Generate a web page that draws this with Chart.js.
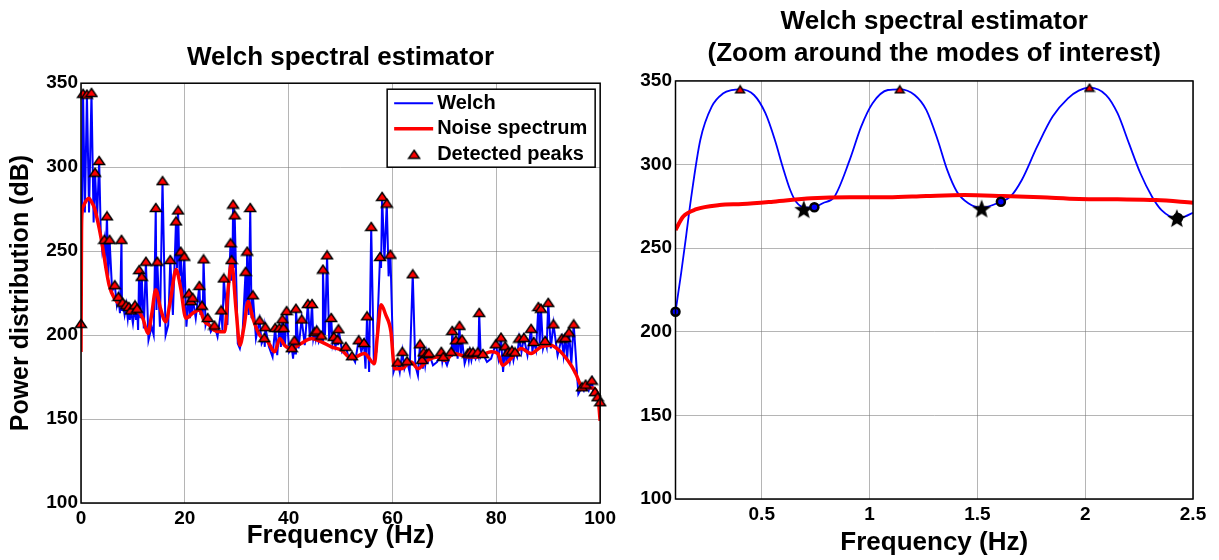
<!DOCTYPE html>
<html>
<head>
<meta charset="utf-8">
<title>Welch spectral estimator</title>
<script src="https://cdn.jsdelivr.net/npm/chart.js@4.4.1/dist/chart.umd.min.js"></script>
<style>
  html, body { margin: 0; padding: 0; background: #fff; }
  #wrap { position: relative; width: 1219px; height: 560px; overflow: hidden; }
  .panel { position: absolute; top: 0; height: 560px; }
  #left { left: 0; width: 620px; }
  #right { left: 615px; width: 604px; }
</style>
</head>
<body>
<div id="wrap">
  <div class="panel" id="left"><canvas id="welch"></canvas></div>
  <div class="panel" id="right"><canvas id="zoom"></canvas></div>
</div>
<script>
// full band, 0-100 Hz
const freqTicks = [0, 20, 40, 60, 80, 100];
const powTicks = [100, 150, 200, 250, 300, 350];

// detected peaks (also the tips of the Welch spikes)
const peakFreq = [0, 0.4, 1.14, 2.02, 2.7, 3.5, 4.5, 5.0, 5.5, 6.5,
  7.2, 7.8, 8.0, 8.7, 9.2, 9.6, 10.4, 10.8, 11.2, 11.7,
  12.5, 14.4, 14.7, 15.7, 17.2, 18.3, 18.7, 19.2, 19.9, 20.8,
  21.2, 21.5, 22.8, 23.3, 23.6, 24.4, 25.7, 27.0, 27.5, 28.8,
  29.0, 29.3, 29.6, 31.7, 32.0, 32.6, 33.1, 34.4, 35.3, 35.5,
  37.4, 38.2, 38.8, 39.0, 39.6, 40.6, 41.1, 41.4, 42.5, 43.7,
  44.5, 45.0, 45.4, 46.3, 46.6, 47.4, 48.2, 48.7, 49.4, 49.6,
  51.0, 52.2, 53.5, 54.5, 55.1, 55.9, 57.6, 58.0, 58.9, 59.6,
  61.0, 61.9, 62.8, 63.9, 65.3, 65.7, 66.0, 66.6, 67.0, 69.4,
  69.8, 71.3, 71.5, 72.2, 72.9, 73.4, 74.5, 74.9, 75.5, 76.4,
  76.7, 77.4, 79.9, 80.9, 81.7, 82.2, 83.0, 83.6, 84.4, 85.3,
  86.7, 87.2, 88.1, 88.6, 89.4, 90.0, 91.0, 92.6, 93.3, 94.0,
  94.9, 96.5, 97.2, 98.4, 99.0, 99.5, 100];
const peakPow = [207, 344, 343.5, 344.5, 297, 304, 257, 271, 257, 230,
  223, 257, 219.6, 218, 217, 215, 218, 216, 239, 235,
  244, 276, 244, 292, 245, 268, 274.5, 250, 247, 225,
  220.5, 222.5, 229.6, 217.8, 245.4, 210.5, 206, 215, 234, 255,
  245, 278, 271.6, 238, 250, 276, 224, 209, 198.5, 205,
  204.5, 204.5, 209.7, 204.5, 214.6, 192.5, 197, 216, 209.6, 218.8,
  218.8, 202, 203, 200, 239.3, 247.8, 210.5, 199.2, 197.5, 203.8,
  193.3, 187.7, 197.2, 195.6, 211.5, 264.7, 246.8, 282.6, 278.6, 248.2,
  184, 190.3, 184.7, 236.5, 194.8, 185.5, 190, 189, 189.5, 190.3,
  187.3, 190.3, 202.8, 197.2, 205.8, 197.6, 189.3, 190, 190, 190,
  213.5, 189, 194.8, 198.8, 193.6, 190, 191, 190, 198.2, 198.6,
  204, 196.2, 217, 216, 196.8, 219.5, 206.7, 198.2, 198.6, 201.8,
  206.7, 169.2, 170.8, 173.2, 166.3, 163.3, 160.3];

// Welch spectrum between the peaks (troughs)
const welchFreq = [0.75, 1.55, 2.43, 3.1, 3.8, 4.1, 4.7, 5.25, 6.0, 6.9,
  7.5, 7.9, 8.4, 9.0, 9.4, 10.0, 10.6, 11.0, 11.45, 12.1,
  13.0, 13.6, 14.0, 14.55, 15.2, 16.3, 16.8, 17.7, 18.5, 19.0,
  19.6, 20.3, 21.0, 21.35, 22.1, 23.0, 23.45, 24.0, 25.0, 26.3,
  27.25, 28.2, 28.9, 29.15, 29.45, 30.2, 30.6, 31.1, 31.85, 32.3,
  32.85, 33.7, 34.8, 35.4, 36.2, 36.9, 37.8, 38.5, 38.9, 39.3,
  40.1, 40.85, 41.25, 41.9, 43.1, 44.1, 44.75, 45.2, 45.8, 46.45,
  47.0, 47.8, 48.45, 49.0, 49.5, 50.3, 51.6, 52.8, 54.0, 54.8,
  55.5, 56.4, 56.9, 57.8, 58.45, 59.25, 60.2, 60.6, 61.4, 62.3,
  63.3, 64.4, 64.9, 65.5, 65.85, 66.3, 66.8, 67.8, 68.6, 69.6,
  70.5, 71.4, 71.9, 72.55, 73.15, 73.9, 74.7, 75.2, 76.0, 76.55,
  77.0, 78.2, 79.0, 80.4, 81.3, 81.95, 82.6, 83.3, 84.0, 84.85,
  86.0, 86.95, 87.65, 88.35, 89.0, 89.7, 90.5, 91.8, 92.95, 93.65,
  94.45, 95.8, 96.85, 97.8, 98.7, 99.25, 99.75];
const welchPow = [273, 273, 267, 270, 262, 250, 240, 235, 226, 218,
  213, 215, 212, 210, 209, 207, 209, 203, 210, 204,
  197, 205, 200, 215, 205, 200, 206, 212, 240, 235,
  222, 205, 210, 212, 210, 212, 210, 206, 202, 199,
  203, 206, 233, 236, 240, 195, 192, 200, 215, 212,
  210, 198, 195, 193, 193, 187, 188, 193, 196, 194,
  190, 186, 189, 192, 194, 197, 198, 198, 196, 196,
  200, 197, 195, 193, 194, 190, 186, 184, 190, 180,
  178, 185, 190, 240, 245, 235, 178, 182, 178, 180,
  178, 182, 176, 183, 180, 182, 183, 182, 184, 184,
  182, 187, 188, 186, 188, 183, 185, 185, 186, 188,
  187, 184, 186, 186, 178, 183, 184, 185, 187, 190,
  188, 190, 191, 195, 192, 193, 192, 188, 188, 186,
  183, 165, 167, 167, 165, 162, 158];

// noise spectrum
const noiseFreq = [0, 0.1, 0.2, 0.5, 1.0, 1.5, 2.0, 2.6, 3.5, 4.2,
  4.8, 5.4, 6.4, 8.0, 9.6, 10.9, 11.9, 12.9, 13.6, 14.4,
  15.3, 16.3, 17.3, 18.3, 19.2, 20.2, 21.5, 22.8, 23.8, 24.7,
  25.6, 26.7, 27.7, 28.3, 29.0, 29.9, 30.6, 31.4, 32.2, 33.1,
  34.4, 36.0, 37.3, 38.3, 39.2, 40.5, 42.4, 44.4, 46.3, 48.2,
  50.2, 52.1, 54.6, 56.5, 57.1, 57.8, 58.7, 59.7, 60.4, 61.7,
  63.6, 64.9, 66.8, 68.7, 70.0, 71.9, 74.5, 76.4, 79.0, 80.3,
  81.2, 82.8, 84.8, 86.7, 88.6, 90.5, 92.4, 94.4, 95.3, 96.6,
  98.5, 99.5, 100];
const noisePow = [190, 262, 273, 277, 280, 281.5, 279.5, 275.6, 263.7, 251.8,
  240, 230, 222, 217, 214, 214, 210, 201, 212, 227,
  216, 208, 222, 239, 228, 210, 213, 215, 208, 206,
  203, 202, 202, 226, 243, 214, 194, 205, 220, 210,
  200, 196, 190, 198, 194, 192, 195, 198, 196, 193,
  191, 186, 189, 183, 200, 218, 212, 202, 180, 180,
  184, 180, 185, 187, 185, 189, 187, 187, 190, 189,
  182, 186, 192, 189, 193, 194, 190, 182, 177, 169,
  168.5, 165, 149];

// zoom around the modes of interest, 0.1-2.5 Hz
const zoomFreqTicks = [0.5, 1, 1.5, 2, 2.5];
const zoomFreq = [0.1, 0.126, 0.15, 0.171, 0.215, 0.268, 0.322, 0.36, 0.4, 0.464,
  0.517, 0.561, 0.597, 0.632, 0.659, 0.703, 0.744, 0.783, 0.837, 0.908,
  0.961, 1.014, 1.085, 1.14, 1.209, 1.263, 1.316, 1.36, 1.405, 1.458,
  1.52, 1.609, 1.653, 1.706, 1.777, 1.849, 1.92, 1.97, 2.02, 2.097,
  2.15, 2.203, 2.256, 2.31, 2.354, 2.425, 2.46, 2.5];
const zoomPow = [212, 235, 258, 278.8, 314.7, 334.6, 342.6, 344.5, 345, 341.6,
  330.7, 314.7, 298.7, 284.8, 277.8, 274.3, 274.5, 276.9, 280.8, 302.8,
  322.7, 336.7, 344.6, 345, 341.6, 332.7, 314.7, 296.8, 283.8, 276.9,
  274.2, 277.8, 280.8, 290.8, 310.7, 328.7, 339.6, 344.2, 346, 341.6,
  330.7, 312.7, 294.8, 280.8, 272.8, 267.9, 268.8, 271.2];
const zoomNoiseFreq = [0.1, 0.135, 0.197, 0.304, 0.41, 0.553, 0.73, 0.908, 1.085, 1.263,
  1.44, 1.618, 1.795, 1.972, 2.15, 2.328, 2.5];
const zoomNoisePow = [260.9, 268.8, 273.3, 275.8, 276.4, 277.8, 279.8, 280.4, 280.4, 281.2,
  281.8, 281.2, 280.4, 279.4, 279.2, 278.8, 277.2];
const zoomPeakFreq = [0.4, 1.14, 2.02];
const zoomPeakPow = [345, 345, 346];
const zoomStarFreq = [0.695, 1.52, 2.425];
const zoomStarPow = [273.3, 273.7, 268];
const zoomDotFreq = [0.1, 0.744, 1.609, 2.43];
const zoomDotPow = [212, 274.5, 277.8, 268];

const FONT = '"Liberation Sans", Arial, Helvetica, sans-serif';
const GRID = 'rgba(120,120,120,0.55)';
Chart.defaults.font.family = FONT;
Chart.defaults.color = '#000';

const pts = (xs, ys) => xs.map((x, i) => ({ x: x, y: ys[i] }));

// marker glyphs
function triangleMarker(w, h) {
  const c = document.createElement('canvas');
  c.width = w + 3; c.height = h + 3;
  const g = c.getContext('2d');
  g.beginPath();
  g.moveTo(c.width / 2, 1.5);
  g.lineTo(w + 1.5, h + 1.5);
  g.lineTo(1.5, h + 1.5);
  g.closePath();
  g.fillStyle = '#ff0000';
  g.fill();
  g.lineWidth = 1.4;
  g.strokeStyle = '#000';
  g.stroke();
  return c;
}
function starMarker(r) {
  const s = Math.ceil(r * 2 + 2);
  const c = document.createElement('canvas');
  c.width = s; c.height = s;
  const g = c.getContext('2d');
  g.translate(s / 2, s / 2 + r * 0.1);
  g.beginPath();
  for (let i = 0; i < 10; i++) {
    const a = -Math.PI / 2 + i * Math.PI / 5;
    const rr = i % 2 ? r * 0.42 : r;
    g.lineTo(rr * Math.cos(a), rr * Math.sin(a));
  }
  g.closePath();
  g.fillStyle = '#000';
  g.fill();
  return c;
}
const bigTriangle = triangleMarker(11, 8);
const smallTriangle = triangleMarker(9, 7);
const star = starMarker(10);

// black box around the plot area
const frame = {
  id: 'frame',
  afterDatasetsDraw(chart) {
    const { ctx, chartArea: a } = chart;
    ctx.save();
    ctx.strokeStyle = '#000';
    ctx.lineWidth = 1.5;
    ctx.strokeRect(a.left, a.top, a.right - a.left, a.bottom - a.top);
    ctx.restore();
  }
};

// matlab-like boxed legend, top right inside the axes
const boxLegend = {
  id: 'boxLegend',
  afterDraw(chart) {
    const { ctx, chartArea } = chart;
    const w = 208, h = 78;
    const left = chartArea.right - 5 - w, top = chartArea.top + 6;
    ctx.save();
    ctx.fillStyle = '#fff';
    ctx.fillRect(left, top, w, h);
    ctx.strokeStyle = '#000';
    ctx.lineWidth = 1.5;
    ctx.strokeRect(left, top, w, h);
    ctx.font = 'bold 20px ' + FONT;
    ctx.textBaseline = 'middle';
    chart.data.datasets.forEach((ds, i) => {
      const y = top + 14 + i * 25.5;
      if (ds.showLine === false) {
        const m = ds.pointStyle;
        ctx.drawImage(m, left + 27 - m.width / 2, y - m.height / 2);
      } else {
        ctx.strokeStyle = ds.borderColor;
        ctx.lineWidth = ds.borderWidth;
        ctx.beginPath();
        ctx.moveTo(left + 7, y);
        ctx.lineTo(left + 46, y);
        ctx.stroke();
      }
      ctx.fillStyle = '#000';
      ctx.fillText(ds.label, left + 50, y);
    });
    ctx.restore();
  }
};

function xAxis(min, max, ticks, height, titlePad) {
  return {
    type: 'linear', min: min, max: max,
    afterBuildTicks: s => { s.ticks = ticks.map(v => ({ value: v })); },
    afterFit: s => { s.height = height; },
    ticks: { color: '#000', padding: 4, maxRotation: 0, autoSkip: false,
      font: { size: 19, weight: 'bold' }, callback: v => String(v) },
    grid: { color: GRID, lineWidth: 1, drawTicks: false },
    border: { display: false },
    title: { display: true, text: 'Frequency (Hz)', color: '#000',
      font: { size: 26, weight: 'bold', lineHeight: 1.2 }, padding: { top: 0, bottom: titlePad } }
  };
}
function yAxis(width, pad, title) {
  return {
    type: 'linear', min: 100, max: 350,
    afterBuildTicks: s => { s.ticks = powTicks.map(v => ({ value: v })); },
    afterFit: s => { s.width = width; },
    ticks: { color: '#000', padding: pad, font: { size: 19, weight: 'bold' } },
    grid: { color: GRID, lineWidth: 1, drawTicks: false },
    border: { display: false },
    title: title ? { display: true, text: title, color: '#000',
      font: { size: 25, weight: 'bold', lineHeight: 1.2 }, padding: { top: 6, bottom: 0 } } : { display: false }
  };
}

new Chart(document.getElementById('welch'), {
  type: 'line',
  data: {
    datasets: [
      { label: 'Welch', data: pts(welchFreq, welchPow).concat(pts(peakFreq, peakPow)).sort((a, b) => a.x - b.x),
        borderColor: '#0000ff', borderWidth: 2, pointRadius: 0, tension: 0, order: 3 },
      { label: 'Noise spectrum', data: pts(noiseFreq, noisePow),
        borderColor: '#ff0000', borderWidth: 3.5, pointRadius: 0, cubicInterpolationMode: 'monotone', order: 2 },
      { label: 'Detected peaks', data: pts(peakFreq, peakPow), showLine: false,
        pointStyle: bigTriangle, pointRadius: 5, clip: false, order: 1 }
    ]
  },
  options: {
    responsive: true, maintainAspectRatio: false, animation: false, events: [],
    layout: { padding: { left: 0, right: 19, top: 0, bottom: 0 } },
    plugins: {
      legend: { display: false },
      tooltip: { enabled: false },
      title: { display: true, fullSize: false, text: 'Welch spectral estimator', color: '#000',
        font: { size: 26, weight: 'bold', lineHeight: 1.2 }, padding: { top: 42, bottom: 10 } }
    },
    scales: {
      x: xAxis(0, 100, freqTicks, 57, 9),
      y: yAxis(81, 3, 'Power distribution (dB)')
    }
  },
  plugins: [frame, boxLegend]
});

new Chart(document.getElementById('zoom'), {
  type: 'line',
  data: {
    datasets: [
      { label: 'Welch', data: pts(zoomFreq, zoomPow), borderColor: '#0000ff', borderWidth: 1.8,
        pointRadius: 0, cubicInterpolationMode: 'monotone', order: 5 },
      { label: 'Noise spectrum', data: pts(zoomNoiseFreq, zoomNoisePow), borderColor: '#ff0000', borderWidth: 4,
        pointRadius: 0, cubicInterpolationMode: 'monotone', order: 4 },
      { label: 'Detected peaks', data: pts(zoomPeakFreq, zoomPeakPow), showLine: false,
        pointStyle: smallTriangle, pointRadius: 5, clip: false, order: 3 },
      { label: 'Minima', data: pts(zoomStarFreq, zoomStarPow), showLine: false,
        pointStyle: star, pointRadius: 5, clip: false, order: 2 },
      { label: 'Bounds', data: pts(zoomDotFreq, zoomDotPow), showLine: false,
        pointStyle: 'circle', pointRadius: 4, pointBorderWidth: 2.5, pointBorderColor: '#000',
        pointBackgroundColor: ['#0000ff', '#0000ff', '#0000ff', '#000'], clip: false, order: 1 }
    ]
  },
  options: {
    responsive: true, maintainAspectRatio: false, animation: false, events: [],
    layout: { padding: { left: 0, right: 26, top: 0, bottom: 0 } },
    plugins: {
      legend: { display: false },
      tooltip: { enabled: false },
      title: { display: true, fullSize: false,
        text: ['Welch spectral estimator', '(Zoom around the modes of interest)'], color: '#000',
        font: { size: 26, weight: 'bold', lineHeight: 1.23 }, padding: { top: 6, bottom: 11 } }
    },
    scales: {
      x: xAxis(0.1, 2.5, zoomFreqTicks, 61, 2),
      y: yAxis(60.5, 3.5, null)
    }
  },
  plugins: [frame]
});
</script>
</body>
</html>
